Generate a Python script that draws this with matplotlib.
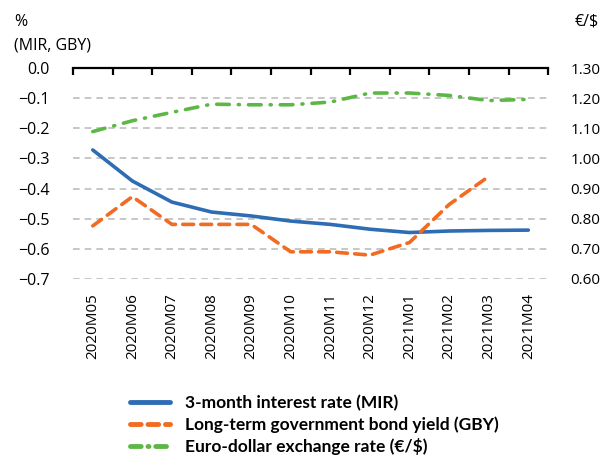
import numpy as np
import matplotlib
matplotlib.use("Agg")
import matplotlib.pyplot as plt
from matplotlib.lines import Line2D

plt.rcParams['font.family'] = ['Open Sans', 'DejaVu Sans']

# monthly data
months = ["2020M05", "2020M06", "2020M07", "2020M08", "2020M09", "2020M10",
          "2020M11", "2020M12", "2021M01", "2021M02", "2021M03", "2021M04"]
mir = [-0.272, -0.375, -0.445, -0.478, -0.491, -0.508,
       -0.519, -0.535, -0.546, -0.541, -0.539, -0.538]
gby = [-0.524, -0.427, -0.519, -0.519, -0.519, -0.610,
       -0.610, -0.621, -0.579, -0.453, -0.360, np.nan]
eurusd = [1.089, 1.125, 1.153, 1.180, 1.178, 1.178,
          1.187, 1.217, 1.217, 1.209, 1.192, 1.196]

left_ticks = [0.0, -0.1, -0.2, -0.3, -0.4, -0.5, -0.6, -0.7]
right_ticks = [0.6, 0.7, 0.8, 0.9, 1.0, 1.1, 1.2, 1.3]

blue = "#2E6DB4"
orange = "#F26B21"
green = "#5DB746"

fig = plt.figure(figsize=(6.03, 4.55), dpi=100)
ax = fig.add_axes([0.121, 0.387, 0.788, 0.4635])
ax2 = ax.twinx()

x = np.arange(len(months))

# grid lines
for t in left_ticks[1:]:
    ax.axhline(t, color="#BDBDBD", lw=1.2, ls=(0, (4, 3)), zorder=0)

ax.plot(x, mir, color=blue, lw=2.6, solid_capstyle="round", zorder=3)
ax.plot(x, gby, color=orange, lw=2.6, ls=(0, (3, 2)), dash_capstyle="round", zorder=3)
ax2.plot(x, eurusd, color=green, lw=2.6, ls=(0, (3.5, 2.5, 0.3, 2.5)),
         dash_capstyle="round", zorder=3)

ax.set_xlim(-0.5, len(months) - 0.5)
ax.set_ylim(-0.7, 0.0)
ax2.set_ylim(0.6, 1.3)

ax.set_yticks(left_ticks)
ax.set_yticklabels([f"{t:.1f}".replace("-", "\u2212") for t in left_ticks])
ax2.set_yticks(right_ticks)
ax2.set_yticklabels([f"{t:.2f}" for t in right_ticks])

for a in (ax, ax2):
    for s in ["left", "right", "bottom", "top"]:
        a.spines[s].set_visible(False)
ax.spines["top"].set_visible(True)
ax.spines["top"].set_linewidth(1.6)
ax.spines["top"].set_color("black")

ax.tick_params(axis="y", length=0, labelsize=11.5, pad=17)
ax2.tick_params(axis="y", length=0, labelsize=11, pad=16)

# month labels at bottom, boundary tick marks on the top spine
ax.set_xticks(x)
ax.set_xticklabels(months, rotation=90)
ax.tick_params(axis="x", which="major", length=0, labelsize=11, pad=10,
               top=False, bottom=True)
ax.set_xticks(np.arange(-0.5, len(months)), minor=True)
ax.tick_params(axis="x", which="minor", top=True, bottom=False, direction="in",
               length=5, width=1.6)

fig.text(0.023, 0.952, "%", fontsize=11.5, ha="left", va="center")
fig.text(0.023, 0.901, "(MIR, GBY)", fontsize=11.5, ha="left", va="center")
fig.text(0.953, 0.952, "\u20ac/$", fontsize=11.5, ha="left", va="center")

handles = [
    Line2D([], [], color=blue, lw=3.5, solid_capstyle="round"),
    Line2D([], [], color=orange, lw=3.5, ls=(0, (2.2, 1.4)), dash_capstyle="round"),
    Line2D([], [], color=green, lw=3.5, ls=(0, (2.2, 1.4, 0.2, 1.4)), dash_capstyle="round"),
]
labels = ["3-month interest rate (MIR)",
          "Long-term government bond yield (GBY)",
          "Euro-dollar exchange rate (\u20ac/$)"]
fig.legend(handles, labels, loc="upper left", bbox_to_anchor=(0.215, 0.132),
           frameon=False, prop={"family": ["Lato", "DejaVu Sans"], "weight": "bold", "size": 12.5},
           handlelength=2.3, handletextpad=0.9, labelspacing=0.3,
           borderaxespad=0, borderpad=0)

fig.savefig("out.png", dpi=100)
